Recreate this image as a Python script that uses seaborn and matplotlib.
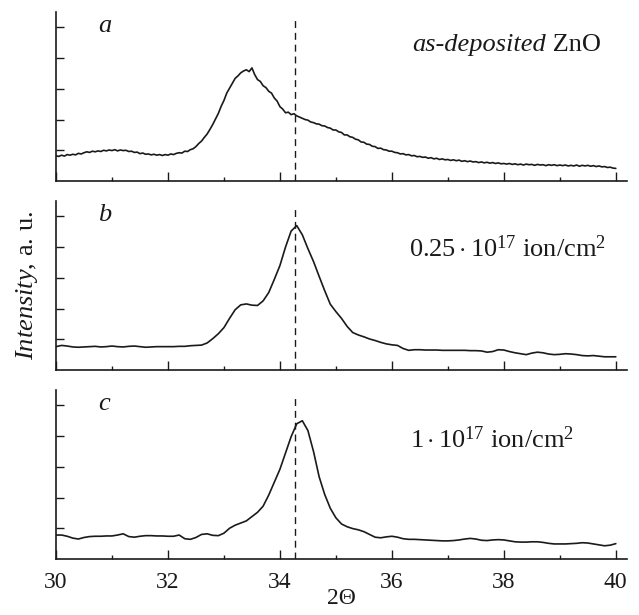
import numpy as np
import pandas as pd
import matplotlib
matplotlib.use("Agg")
import matplotlib.pyplot as plt
import seaborn as sns

# ---------------- data ----------------
two_theta_a = np.round(np.arange(30.0, 40.001, 0.05), 2)
intensity_a = [
    0.82, 0.80, 0.84, 0.81, 0.86, 0.84, 0.87, 0.85, 0.90, 0.88,
    0.92, 0.95, 0.93, 0.97, 0.95, 0.98, 0.96, 1.00, 0.98, 1.01,
    0.99, 1.02, 0.98, 1.01, 0.99, 1.00, 0.96, 0.97, 0.93, 0.94,
    0.89, 0.91, 0.87, 0.88, 0.85, 0.87, 0.84, 0.86, 0.83, 0.86,
    0.84, 0.88, 0.86, 0.90, 0.92, 0.91, 0.97, 0.96, 1.02, 1.05,
    1.12, 1.22, 1.30, 1.42, 1.53, 1.68, 1.84, 2.02, 2.20, 2.43,
    2.62, 2.86, 3.02, 3.18, 3.34, 3.42, 3.52, 3.58, 3.62, 3.56,
    3.68, 3.46, 3.30, 3.24, 3.10, 3.04, 2.92, 2.86, 2.70, 2.60,
    2.42, 2.34, 2.22, 2.24, 2.16, 2.19, 2.12, 2.08, 2.04, 2.00,
    1.98, 1.92, 1.90, 1.86, 1.85, 1.80, 1.79, 1.74, 1.72, 1.66,
    1.66, 1.60, 1.58, 1.50, 1.50, 1.44, 1.42, 1.36, 1.34, 1.27,
    1.26, 1.20, 1.19, 1.13, 1.12, 1.06, 1.07, 1.02, 1.01, 0.97,
    0.97, 0.93, 0.92, 0.88, 0.89, 0.85, 0.86, 0.82, 0.83, 0.79,
    0.80, 0.77, 0.78, 0.74, 0.76, 0.72, 0.74, 0.70, 0.72, 0.69,
    0.70, 0.67, 0.69, 0.66, 0.68, 0.64, 0.66, 0.63, 0.65, 0.62,
    0.63, 0.60, 0.62, 0.59, 0.61, 0.58, 0.60, 0.57, 0.59, 0.56,
    0.57, 0.55, 0.57, 0.54, 0.56, 0.53, 0.55, 0.52, 0.55, 0.53,
    0.54, 0.51, 0.54, 0.52, 0.53, 0.50, 0.53, 0.51, 0.53, 0.50,
    0.52, 0.50, 0.52, 0.49, 0.51, 0.49, 0.52, 0.48, 0.51, 0.49,
    0.51, 0.48, 0.50, 0.47, 0.49, 0.46, 0.47, 0.44, 0.45, 0.42,
    0.41,
]

two_theta_bc = np.round(np.arange(30.0, 40.001, 0.1), 1)
intensity_b = [
    0.76, 0.80, 0.78, 0.75, 0.74, 0.75, 0.76, 0.77, 0.75, 0.76,
    0.78, 0.76, 0.75, 0.77, 0.78, 0.76, 0.74, 0.75, 0.76, 0.76,
    0.76, 0.76, 0.77, 0.77, 0.79, 0.80, 0.81, 0.88, 1.02, 1.18,
    1.38, 1.68, 1.96, 2.12, 2.15, 2.11, 2.10, 2.25, 2.52, 2.95,
    3.40, 4.00, 4.52, 4.70, 4.40, 3.95, 3.53, 3.05, 2.58, 2.14,
    1.90, 1.68, 1.42, 1.22, 1.14, 1.08, 1.01, 0.96, 0.90, 0.85,
    0.82, 0.80, 0.70, 0.64, 0.66, 0.66, 0.65, 0.65, 0.65, 0.64,
    0.64, 0.64, 0.64, 0.64, 0.63, 0.63, 0.62, 0.58, 0.60, 0.66,
    0.65, 0.60, 0.56, 0.53, 0.50, 0.55, 0.58, 0.56, 0.52, 0.50,
    0.51, 0.53, 0.52, 0.50, 0.47, 0.46, 0.47, 0.45, 0.43, 0.43,
    0.43,
]
intensity_c = [
    0.78, 0.78, 0.74, 0.68, 0.65, 0.70, 0.73, 0.74, 0.74, 0.75,
    0.75, 0.78, 0.82, 0.73, 0.71, 0.74, 0.76, 0.76, 0.75, 0.75,
    0.74, 0.74, 0.78, 0.66, 0.64, 0.70, 0.80, 0.82, 0.77, 0.76,
    0.84, 1.00, 1.10, 1.17, 1.24, 1.38, 1.52, 1.72, 2.08, 2.50,
    2.92, 3.45, 3.98, 4.40, 4.50, 4.18, 3.50, 2.68, 2.10, 1.65,
    1.34, 1.14, 1.05, 0.99, 0.95, 0.89, 0.80, 0.71, 0.69, 0.72,
    0.74, 0.71, 0.66, 0.64, 0.64, 0.63, 0.62, 0.61, 0.60, 0.59,
    0.59, 0.60, 0.62, 0.65, 0.67, 0.65, 0.61, 0.60, 0.62, 0.63,
    0.62, 0.59, 0.56, 0.55, 0.55, 0.56, 0.56, 0.54, 0.51, 0.49,
    0.49, 0.49, 0.50, 0.51, 0.53, 0.52, 0.49, 0.46, 0.43, 0.45,
    0.50,
]

panel_letters = ["a", "b", "c"]
dose_b = r"$0.25\cdot10^{17}$ ion/cm$^{2}$"
dose_c = r"$1\cdot10^{17}$ ion/cm$^{2}$"
ref_line = 34.27
x_major = [30, 32, 34, 36, 38, 40]
x_minor = [31, 33, 35, 37, 39]
y_ticks = [1, 2, 3, 4, 5]

# ---------------- style ----------------
sns.set_theme(style="ticks")
plt.rcParams["font.family"] = ["Liberation Serif", "DejaVu Serif"]
plt.rcParams["mathtext.fontset"] = "custom"
plt.rcParams["mathtext.rm"] = "Liberation Serif"
plt.rcParams["mathtext.it"] = "Liberation Serif:italic"
plt.rcParams["mathtext.bf"] = "Liberation Serif:bold"

ink = "#1a1a1a"
fig = plt.figure(figsize=(6.39, 6.15), dpi=100)

left = 56 / 639
width = 627 / 639 - left
height = 169 / 615
bottoms = [1 - 181 / 615, 1 - 370 / 615, 1 - 559 / 615]

frames = [
    pd.DataFrame({"x": two_theta_a, "y": intensity_a}),
    pd.DataFrame({"x": two_theta_bc, "y": intensity_b}),
    pd.DataFrame({"x": two_theta_bc, "y": intensity_c}),
]

axes = []
for i, (df, b) in enumerate(zip(frames, bottoms)):
    ax = fig.add_axes([left, b, width, height])
    axes.append(ax)
    sns.lineplot(data=df, x="x", y="y", ax=ax, color=ink, linewidth=1.2)
    ax.axvline(ref_line, ymin=0, ymax=0.97, color=ink, linewidth=1.0,
               linestyle=(0, (5, 3.5)))
    ax.set_xlim(30, 40.2)
    ax.set_ylim(0, 5.5)
    ax.set_xticks(x_major)
    ax.set_xticks(x_minor, minor=True)
    ax.set_yticks(y_ticks)
    ax.set_yticklabels([])
    ax.tick_params(axis="x", which="major", direction="in", length=6.5,
                   width=1.0, color=ink, labelsize=17, labelcolor=ink, pad=9)
    ax.tick_params(axis="x", which="minor", direction="in", length=3.2,
                   width=1.0, color=ink)
    ax.tick_params(axis="y", which="major", direction="in", length=6,
                   width=1.0, color=ink)
    for s in ["top", "right"]:
        ax.spines[s].set_visible(False)
    for s in ["left", "bottom"]:
        ax.spines[s].set_linewidth(1.2)
        ax.spines[s].set_color(ink)
    ax.set_ylabel("")
    ax.set_xlabel("")
    if i < 2:
        ax.set_xticklabels([])
    ax.text(30.75, 4.85, panel_letters[i], fontsize=19, style="italic",
            color=ink, ha="left", va="baseline")

# panel annotations
axes[0].text(38.75, 4.24, "as-deposited", fontsize=19, style="italic",
             color=ink, ha="right", va="baseline")
axes[0].text(38.75, 4.24, " ZnO", fontsize=19, color=ink,
             ha="left", va="baseline")
axes[1].text(36.30, 3.69, dose_b, fontsize=19, color=ink,
             ha="left", va="baseline")
axes[2].text(36.33, 3.60, dose_c, fontsize=19, color=ink,
             ha="left", va="baseline")

axes[2].set_xlabel("2Θ", fontsize=17, color=ink, labelpad=-3.5)

fig.text(27 / 639, 1 - 285 / 615, r"$\mathit{Intensity}$, a. u.",
         fontsize=19, color=ink, rotation=90, ha="center", va="center")

fig.savefig("out.png", dpi=100)
